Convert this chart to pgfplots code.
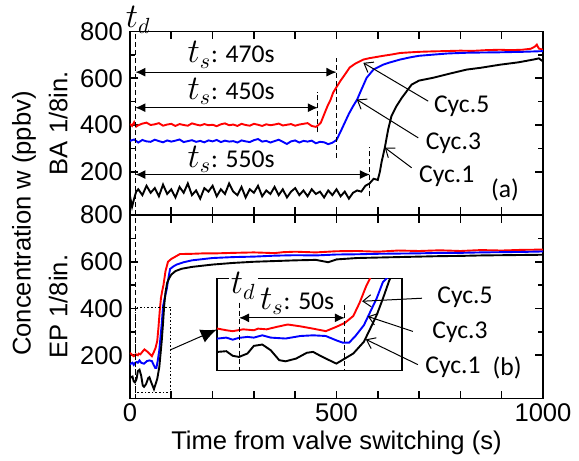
\documentclass[border=0pt]{standalone}
\usepackage{pgfplots}
\usepackage{pgfplotstable}
\pgfplotsset{compat=1.18}
\usetikzlibrary{calc,arrows.meta}
\usepackage{fontspec}
\setmainfont{Liberation Sans}
\newfontfamily\calib{Carlito}
\newcommand\lab{\fontsize{12.8}{15}\selectfont}
\newcommand\annot{\calib\fontsize{12.8}{15}\selectfont}
\newcommand\mth{\fontsize{16}{18}\selectfont}

% panel (a): BA 1/8in.
\pgfplotstableread{
x y
0 405
5 396
10 412
15 393
20 399
30 406
40 410
50 400
60 403
70 408
80 397
90 402
100 405
110 396
120 404
130 400
140 397
150 407
160 402
170 398
180 404
190 399
200 401
210 395
220 403
230 407
240 399
250 402
260 396
270 405
280 400
290 397
300 405
310 401
320 396
330 403
340 399
350 402
360 406
370 398
380 401
390 404
400 397
410 402
420 405
430 408
440 396
450 392
455 398
462 410
470 445
478 480
485 505
492 539
500 562
510 590
520 615
532 646
545 662
565 680
580 686
600 692
613 696
635 702
654 708
680 711
700 713
734 715
760 716
800 718
830 717
860 720
896 722
920 720
950 722
970 726
980 735
985 744
990 727
1000 722
}\redA

\pgfplotstableread{
x y
0 332
10 338
20 325
30 336
40 330
50 328
60 337
70 331
80 326
90 334
100 329
110 333
120 338
130 327
140 331
150 335
160 328
170 332
180 326
190 334
200 330
210 336
220 327
230 333
240 329
250 331
260 325
270 334
280 330
290 327
300 335
310 340
320 329
330 332
340 325
350 331
360 337
370 328
380 319
390 330
400 334
410 325
420 332
430 329
440 333
450 322
460 328
470 326
480 318
490 324
500 336
510 372
520 410
530 448
540 480
550 509
560 550
573 602
590 638
613 658
630 668
654 680
680 690
700 696
734 701
770 706
815 709
850 710
896 711
950 713
1000 716
}\blueA

\pgfplotstableread{
x y
0 95
5 50
10 85
15 115
20 125
30 100
40 140
50 110
60 130
70 95
80 145
90 105
100 125
110 90
120 135
130 110
140 150
150 100
160 120
170 85
180 130
190 115
200 140
210 95
220 125
230 105
240 150
250 115
260 100
270 135
280 90
290 125
300 110
310 140
320 95
330 120
340 105
350 135
360 100
370 125
380 90
390 115
400 130
410 100
420 120
430 95
440 125
450 105
460 115
470 90
480 120
490 100
500 125
510 95
520 115
530 85
540 110
550 120
560 115
570 140
580 150
590 170
600 165
605 200
609 240
617 303
625 380
633 438
645 480
658 516
682 573
700 590
734 602
770 618
815 637
850 645
896 658
940 668
977 680
990 685
1000 672
}\blackA

% panel (b): EP 1/8in.
\pgfplotstableread{
x y
0 210
2 207
6 200
9 196
14 204
19 200
21 207
25 204
30 215
35 225
41 217
47 207
53 196
58 215
62 232
66 262
69 320
72 390
75 445
78 475
81 500
86 560
92 600
100 612
110 622
121 633
150 634
180 636
210 636
250 638
300 640
350 637
371 641
400 643
450 640
500 645
550 646
600 643
650 648
700 646
750 649
800 646
850 650
900 648
950 651
1000 652
}\redB

\pgfplotstableread{
x y
0 160
2 164
6 168
9 159
12 167
16 171
19 168
23 178
27 168
34 164
41 175
47 178
53 175
58 156
61 146
64 146
67 175
71 222
74 280
77 338
80 410
84 445
89 483
93 530
97 569
105 580
113 588
130 598
150 606
200 616
250 620
300 622
350 626
400 628
450 627
500 631
550 632
600 634
650 635
700 636
750 638
800 638
850 640
900 641
950 642
1000 644
}\blueB

\pgfplotstableread{
x y
0 100
2 106
6 109
9 89
12 84
16 99
19 132
23 138
27 113
31 70
34 65
39 77
44 102
47 106
50 91
53 77
58 55
62 77
66 99
71 150
74 207
77 265
80 338
83 417
86 470
90 510
95 530
100 545
110 560
125 570
150 578
200 588
250 595
300 600
350 603
400 606
450 608
480 598
500 610
550 616
600 618
650 620
700 622
750 624
800 625
850 627
900 628
950 629
1000 630
}\blackB

\pgfplotsset{
  panel/.style={
    scale only axis, width=206.5pt, height=91.75pt,
    xmin=0, xmax=1000, ymin=15, ymax=800,
    xtick={0,100,...,1000},
    ytick={200,400,600,800},
    minor y tick num=1,
    tick align=inside,
    major tick length=4pt, minor tick length=2.5pt,
    tick style={line width=0.8pt, black},
    axis line style={line width=0.9pt},
    tick label style={font=\lab},
    xticklabel style={yshift=-1.5pt, inner sep=1pt},
    /pgf/number format/assume math mode=true,
    label style={font=\lab},
    ylabel style={at={(axis description cs:-0.174,0.5)}, anchor=center},
    every axis plot/.append style={line width=0.95pt, mark=none},
    clip mode=individual,
  },
}
\tikzset{
  ts/.style={{Latex[length=5pt,width=4.5pt]}-{Latex[length=5pt,width=4.5pt]}, line width=0.6pt},
  cyc/.style={-{Straight Barb[length=4pt,width=6pt]}, line width=0.5pt},
  vd/.style={black, line width=0.5pt, dash pattern=on 2.5pt off 1.5pt},
}

\begin{document}
\begin{tikzpicture}
\begin{axis}[panel, name=top, xticklabels={}, ylabel={BA 1/8in.}]
\addplot[red] table {\redA};
\addplot[blue] table {\blueA};
\addplot[black] table {\blackA};
\addplot[vd] coordinates {(13,15) (13,800)};
\addplot[vd] coordinates {(455,368) (455,540)};
\addplot[vd] coordinates {(500,260) (500,688)};
\addplot[vd] coordinates {(581,95) (581,308)};
\draw[ts] (axis cs:13,626) -- (axis cs:500,626);
\draw[ts] (axis cs:13,474) -- (axis cs:455,474);
\draw[ts] (axis cs:13,188) -- (axis cs:581,188);
\node[font=\annot] at (axis cs:245,700) {{\mth$t_s$}: 470s};
\node[font=\annot] at (axis cs:245,543) {{\mth$t_s$}: 450s};
\node[font=\annot] at (axis cs:245,252) {{\mth$t_s$}: 550s};
\node[font=\mth] at (axis cs:20,850) {$t_d$};
\draw[cyc] (axis cs:722,502) -- (axis cs:565,666);
\draw[cyc] (axis cs:698,345) -- (axis cs:549,509);
\draw[cyc] (axis cs:682,217) -- (axis cs:617,303);
\node[font=\annot] at (axis cs:803,480) {Cyc.5};
\node[font=\annot] at (axis cs:783,324) {Cyc.3};
\node[font=\annot] at (axis cs:767,181) {Cyc.1};
\node[font=\annot] at (axis cs:908,124) {(a)};
\end{axis}

\begin{axis}[panel, name=bot, at={(top.south west)}, anchor=north west,
    xticklabels={0,,,,,500,,,,,1000},
    ylabel={EP 1/8in.},
    xlabel={Time from valve switching (s)},
    xlabel style={at={(axis description cs:0.5,0)}, anchor=center, yshift=-22pt, inner sep=1pt}]
\addplot[red] table {\redB};
\addplot[blue] table {\blueB};
\addplot[black] table {\blackB};
\addplot[vd] coordinates {(13,15) (13,800)};
\draw[line width=0.6pt, dash pattern=on 0.8pt off 1pt] (axis cs:13,40) rectangle (axis cs:99,404);
\draw[line width=0.5pt, -{Latex[length=8pt,width=7pt]}] (axis cs:99,224) -- (axis cs:210,310);
\node[font=\annot] at (axis cs:811,448) {Cyc.5};
\node[font=\annot] at (axis cs:799,298) {Cyc.3};
\node[font=\annot] at (axis cs:782,147) {Cyc.1};
\node[font=\annot] at (axis cs:913,147) {(b)};
\coordinate (b5t) at (axis cs:707,444);
\coordinate (b5h) at (axis cs:562,431);
\coordinate (b3t) at (axis cs:685,302);
\coordinate (b3h) at (axis cs:576,366);
\coordinate (b1t) at (axis cs:697,160);
\coordinate (b1h) at (axis cs:571,268);
\end{axis}

% inset: magnified start of panel (b)
\begin{axis}[name=ins, at={($(bot.south west)+(43.5pt,14pt)$)}, anchor=south west,
    scale only axis, width=92.5pt, height=46pt,
    xmin=1.6, xmax=89, ymin=25, ymax=425,
    xtick=\empty, ytick=\empty,
    axis line style={line width=0.9pt},
    axis background/.style={fill=white},
    every axis plot/.append style={line width=0.95pt, mark=none},
    clip mode=individual]
\addplot[red] table {\redB};
\addplot[blue] table {\blueB};
\addplot[black] table {\blackB};
\addplot[vd] coordinates {(12,320) (12,25)};
\addplot[vd] coordinates {(62,310) (62,25)};
\draw[ts] (axis cs:12,254) -- (axis cs:62,254);
\node[font=\annot] at (axis cs:39.5,327) {{\mth$t_s$}: 50s};
\node[font=\mth, fill=white, inner sep=1pt] at (axis cs:14,393) {$t_d$};
\end{axis}

\draw[cyc] (b5t) -- (b5h);
\draw[cyc] (b3t) -- (b3h);
\draw[cyc] (b1t) -- (b1h);

\node[rotate=90, font=\lab] at ($(top.south west)+(-53pt,-4.25pt)$) {Concentration w (ppbv)};

\pgfresetboundingbox
\path[use as bounding box] ($(top.south west)+(-65pt,-123pt)$) rectangle ($(top.south west)+(224.5pt,107.5pt)$);
\end{tikzpicture}
\end{document}
